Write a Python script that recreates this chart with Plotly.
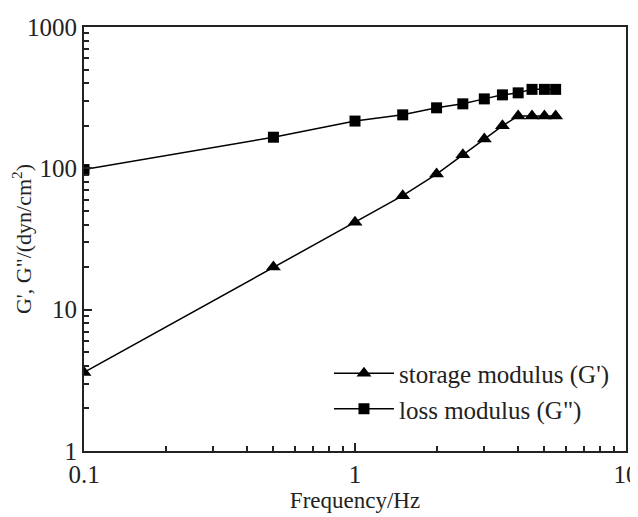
import plotly.graph_objects as go

freq = [0.1, 0.5, 1, 1.5, 2, 2.5, 3, 3.5, 4, 4.5, 5, 5.5]
storage = [3.6, 20, 41.5, 64, 91, 125, 161, 200, 235, 235, 235, 235]
loss = [98, 166, 216, 239, 268, 286, 310, 331, 342, 362, 362, 362]

x_ticks = [0.1, 1, 10]
x_ticktext = ["0.1", "1", "10"]
y_ticks = [1, 10, 100, 1000]
y_ticktext = ["1", "10", "100", "1000"]
x_minor = [0.2, 0.3, 0.4, 0.5, 0.6, 0.7, 0.8, 0.9, 2, 3, 4, 5, 6, 7, 8, 9]
y_minor = [2, 3, 4, 5, 6, 7, 8, 9, 20, 30, 40, 50, 60, 70, 80, 90,
           200, 300, 400, 500, 600, 700, 800, 900]

FONT = "Liberation Serif"
FS = 25

fig = go.Figure()
fig.add_trace(go.Scatter(
    x=freq, y=storage, mode="lines+markers", name="storage modulus (G')",
    line=dict(color="black", width=1.5),
    marker=dict(symbol="triangle-up", size=13, color="black"),
))
fig.add_trace(go.Scatter(
    x=freq, y=loss, mode="lines+markers", name='loss modulus (G")',
    line=dict(color="black", width=1.5),
    marker=dict(symbol="square", size=11, color="black"),
))

axis_common = dict(
    showgrid=False, zeroline=False, showline=True, linewidth=2,
    linecolor="#222", mirror=True, ticks="inside", ticklen=8,
    tickwidth=1.5, tickcolor="#222", automargin=False,
    ticklabeloverflow="allow",
    tickfont=dict(family=FONT, size=FS, color="#222"),
)

fig.update_xaxes(
    type="log", range=[-1, 1], tickvals=x_ticks, ticktext=x_ticktext,
    title=dict(text="Frequency/Hz", font=dict(family=FONT, size=23, color="#222"), standoff=0),
    minor=dict(tickvals=x_minor, ticks="inside", ticklen=5, tickwidth=1.5, tickcolor="#222", showgrid=False),
    **axis_common,
)
fig.update_yaxes(
    type="log", range=[0, 3], tickvals=y_ticks, ticktext=y_ticktext,
    title=dict(text='G\', G"/(dyn/cm<sup>2</sup>)', font=dict(family=FONT, size=22, color="#222"), standoff=6),
    minor=dict(tickvals=y_minor, ticks="inside", ticklen=5, tickwidth=1.5, tickcolor="#222", showgrid=False),
    **axis_common,
)

fig.update_layout(
    width=630, height=509,
    margin=dict(l=76, r=12, t=19, b=66),
    paper_bgcolor="white", plot_bgcolor="white",
    font=dict(family=FONT, size=FS, color="#222"),
    showlegend=True,
    legend=dict(
        x=0.452, y=0.1415, xanchor="left", yanchor="middle",
        bgcolor="rgba(0,0,0,0)", borderwidth=0,
        font=dict(family=FONT, size=FS, color="#222"),
        itemwidth=60, tracegroupgap=0,
    ),
)

fig.write_html("out.html")
